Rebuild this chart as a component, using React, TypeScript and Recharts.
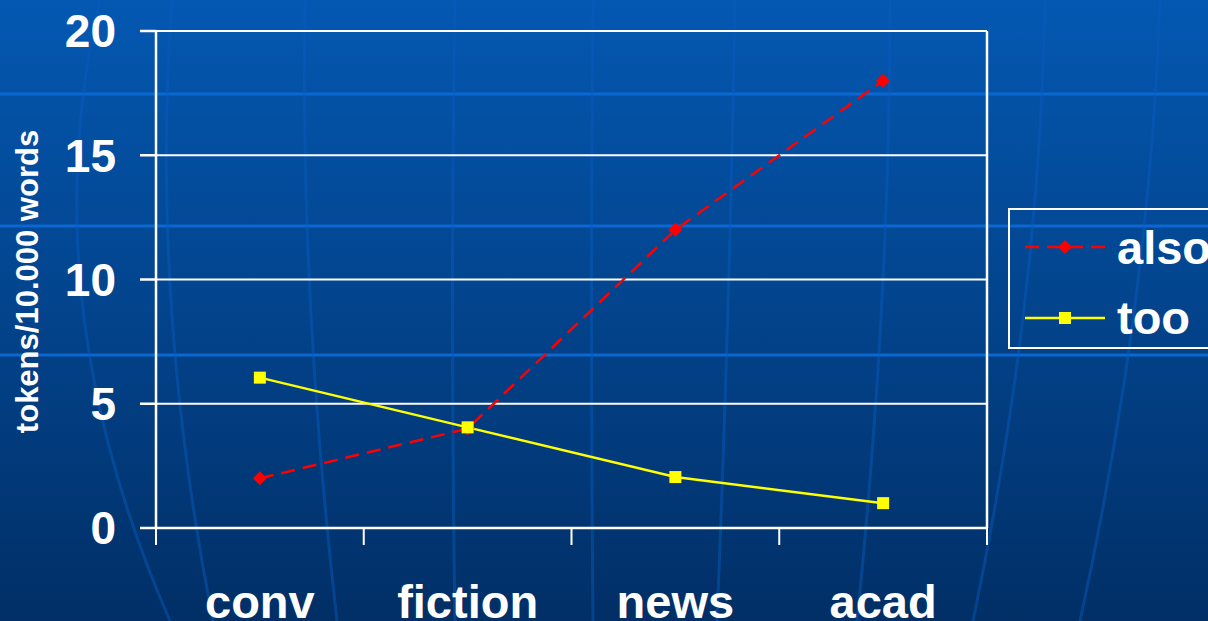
import { LineChart, Line, XAxis, YAxis, CartesianGrid, ReferenceLine, Legend } from 'recharts';

const categories = ['conv', 'fiction', 'news', 'acad'];
const alsoValues = [2, 4, 12, 18];
const tooValues = [6.05, 4.05, 2.05, 1];
const yTicks = [0, 5, 10, 15, 20];
const seriesNames = ['also', 'too'];

const data = categories.map((name, i) => ({
  name,
  pos: i + 0.5,
  also: alsoValues[i],
  too: tooValues[i],
}));

// category labels sit at the half positions, separators at the whole ones
const xTicks: number[] = [];
for (let i = 0; i <= categories.length * 2; i++) xTicks.push(i / 2);

const FONT = '"Liberation Sans", Arial, sans-serif';

function CategoryTick(props: any) {
  const { x, y, payload } = props;
  const v = payload.value;
  if (Number.isInteger(v)) {
    return <line x1={x} y1={y} x2={x} y2={y + 17} stroke="#fff" strokeWidth={2} />;
  }
  return (
    <text x={x} y={y + 90} textAnchor="middle" fill="#fff" fontSize={47} fontWeight="bold" fontFamily={FONT}>
      {categories[Math.floor(v)]}
    </text>
  );
}

function Diamond({ cx, cy }: any) {
  if (cx == null || cy == null) return null;
  return <polygon points={`${cx},${cy - 7} ${cx + 7},${cy} ${cx},${cy + 7} ${cx - 7},${cy}`} fill="#ff0000" />;
}

function Square({ cx, cy }: any) {
  if (cx == null || cy == null) return null;
  return <rect x={cx - 6} y={cy - 6} width={12} height={12} fill="#ffff00" />;
}

function LegendBox() {
  return (
    <svg width={230} height={142} style={{ display: 'block' }}>
      <rect x={1} y={1} width={240} height={139} fill="none" stroke="#fff" strokeWidth={2} />
      <line x1={17} y1={39} x2={97} y2={39} stroke="#ff0000" strokeWidth={2.5} strokeDasharray="14 8" />
      <Diamond cx={57} cy={39} />
      <text x={109} y={56} fill="#fff" fontSize={47} fontWeight="bold" fontFamily={FONT}>{seriesNames[0]}</text>
      <line x1={17} y1={110} x2={97} y2={110} stroke="#ffff00" strokeWidth={2.5} />
      <Square cx={57} cy={110} />
      <text x={109} y={126} fill="#fff" fontSize={47} fontWeight="bold" fontFamily={FONT}>{seriesNames[1]}</text>
    </svg>
  );
}

function Backdrop() {
  return (
    <svg width={1208} height={621} style={{ position: 'absolute', left: 0, top: 0 }}>
      <defs>
        <linearGradient id="bg" x1="0" y1="0" x2="0" y2="1">
          <stop offset="0%" stopColor="#0458b2" />
          <stop offset="100%" stopColor="#012f66" />
        </linearGradient>
      </defs>
      <rect width={1208} height={621} fill="url(#bg)" />
      {[94, 226, 355].map((y) => (
        <line key={y} x1={0} y1={y} x2={1208} y2={y} stroke="#0b68d2" strokeWidth={3} />
      ))}
      <g stroke="#0a5cc0" strokeWidth={3} fill="none" opacity={0.45}>
        <path d="M100 0 Q30 300 170 621" />
        <path d="M172 0 Q150 300 213 621" />
        <path d="M305 0 Q300 300 337 621" />
        <path d="M455 0 Q450 300 455 621" />
        <path d="M593 0 Q590 300 593 621" />
        <path d="M735 0 Q730 300 717 621" />
        <path d="M890 0 Q890 300 857 621" />
        <path d="M1045 0 Q1040 300 973 621" />
        <path d="M1160 0 Q1150 300 1080 621" />
      </g>
    </svg>
  );
}

export default function App() {
  return (
    <div style={{ position: 'absolute', left: 0, top: 0, width: 1208, height: 621, overflow: 'hidden' }}>
      <Backdrop />
      <div style={{ position: 'absolute', left: 0, top: 0 }}>
        <LineChart width={1208} height={621} data={data} margin={{ top: 31, right: 221, left: 0, bottom: 0 }}>
          <CartesianGrid vertical={false} stroke="#fff" strokeWidth={2} />
          <XAxis
            dataKey="pos"
            type="number"
            domain={[0, 4]}
            ticks={xTicks}
            interval={0}
            height={93}
            tickSize={0}
            tickMargin={0}
            tickLine={false}
            stroke="#fff"
            strokeWidth={2.5}
            tick={<CategoryTick />}
          />
          <YAxis
            type="number"
            domain={[0, 20]}
            ticks={yTicks}
            width={156}
            tickSize={16}
            tickMargin={24}
            stroke="#fff"
            strokeWidth={2.5}
            tick={{ fill: '#fff', fontSize: 46, fontWeight: 'bold', fontFamily: FONT }}
            label={{
              content: ({ viewBox }: any) => {
                const cx = viewBox.x + 27;
                const cy = viewBox.y + viewBox.height / 2 + 2;
                return (
                  <text
                    x={cx}
                    y={cy}
                    transform={`rotate(-90 ${cx} ${cy})`}
                    textAnchor="middle"
                    dominantBaseline="central"
                    fill="#fff"
                    fontSize={31}
                    fontWeight="bold"
                    fontFamily={FONT}
                  >
                    tokens/10.000 words
                  </text>
                );
              },
            }}
          />
          <ReferenceLine x={4} stroke="#fff" strokeWidth={2.5} />
          <Legend
            layout="horizontal"
            verticalAlign="middle"
            align="center"
            content={() => <LegendBox />}
            wrapperStyle={{ left: 1008, top: 208, width: 230, height: 142 }}
          />
          <Line
            type="linear"
            dataKey="also"
            stroke="#ff0000"
            strokeWidth={2.5}
            strokeDasharray="14 8"
            dot={<Diamond />}
            activeDot={false}
            isAnimationActive={false}
          />
          <Line
            type="linear"
            dataKey="too"
            stroke="#ffff00"
            strokeWidth={2.5}
            dot={<Square />}
            activeDot={false}
            isAnimationActive={false}
          />
        </LineChart>
      </div>
    </div>
  );
}
